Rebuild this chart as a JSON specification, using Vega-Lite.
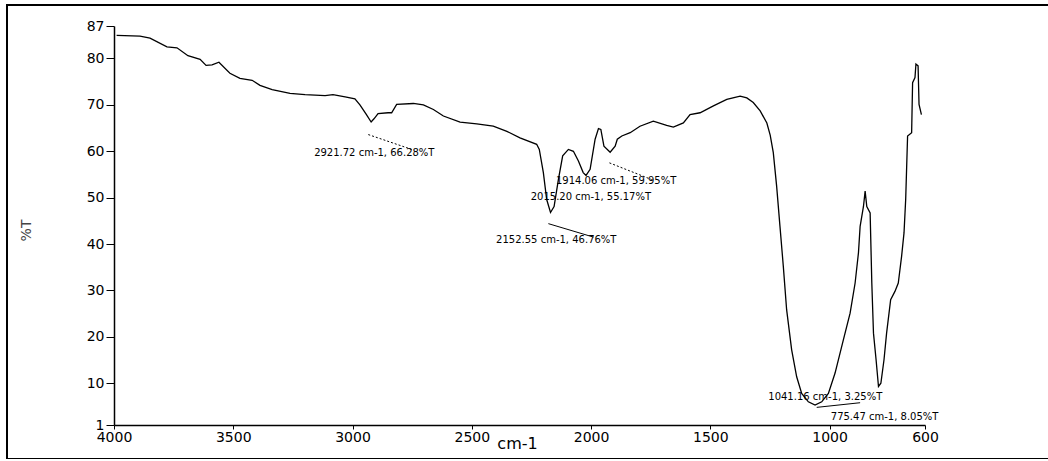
{
  "$schema": "https://vega.github.io/schema/vega-lite/v6.json",
  "width": 1045,
  "height": 454,
  "autosize": "none",
  "padding": {"left": 7, "top": 5, "right": 0, "bottom": 0},
  "background": "white",
  "datasets": {
    "spectrum": [
      {"wn": 3989, "T": 85.0}, {"wn": 3891, "T": 84.8}, {"wn": 3849, "T": 84.4}, {"wn": 3778, "T": 82.5},
      {"wn": 3736, "T": 82.3}, {"wn": 3690, "T": 80.6}, {"wn": 3639, "T": 79.8}, {"wn": 3614, "T": 78.5},
      {"wn": 3589, "T": 78.6}, {"wn": 3560, "T": 79.2}, {"wn": 3514, "T": 76.8}, {"wn": 3472, "T": 75.7},
      {"wn": 3421, "T": 75.3}, {"wn": 3388, "T": 74.2}, {"wn": 3337, "T": 73.3}, {"wn": 3262, "T": 72.5},
      {"wn": 3199, "T": 72.2}, {"wn": 3115, "T": 72.0}, {"wn": 3082, "T": 72.2}, {"wn": 3031, "T": 71.7},
      {"wn": 2990, "T": 71.3}, {"wn": 2969, "T": 70.0}, {"wn": 2943, "T": 68.0}, {"wn": 2922, "T": 66.3},
      {"wn": 2910, "T": 67.0}, {"wn": 2893, "T": 68.1}, {"wn": 2851, "T": 68.3}, {"wn": 2836, "T": 68.3},
      {"wn": 2815, "T": 70.1}, {"wn": 2745, "T": 70.3}, {"wn": 2703, "T": 70.0}, {"wn": 2661, "T": 69.0},
      {"wn": 2619, "T": 67.6}, {"wn": 2549, "T": 66.3}, {"wn": 2479, "T": 65.9}, {"wn": 2410, "T": 65.4},
      {"wn": 2353, "T": 64.3}, {"wn": 2298, "T": 62.9}, {"wn": 2228, "T": 61.5}, {"wn": 2217, "T": 60.4},
      {"wn": 2200, "T": 55.4}, {"wn": 2186, "T": 49.6}, {"wn": 2170, "T": 46.8}, {"wn": 2155, "T": 48.1},
      {"wn": 2137, "T": 53.9}, {"wn": 2119, "T": 59.0}, {"wn": 2095, "T": 60.4}, {"wn": 2074, "T": 60.0},
      {"wn": 2053, "T": 57.9}, {"wn": 2033, "T": 55.4}, {"wn": 2021, "T": 54.8}, {"wn": 2004, "T": 56.1},
      {"wn": 1983, "T": 62.6}, {"wn": 1969, "T": 64.9}, {"wn": 1959, "T": 64.7}, {"wn": 1946, "T": 61.1},
      {"wn": 1920, "T": 59.8}, {"wn": 1899, "T": 61.1}, {"wn": 1890, "T": 62.6}, {"wn": 1871, "T": 63.3},
      {"wn": 1836, "T": 64.0}, {"wn": 1795, "T": 65.4}, {"wn": 1739, "T": 66.5}, {"wn": 1683, "T": 65.6},
      {"wn": 1655, "T": 65.2}, {"wn": 1613, "T": 66.1}, {"wn": 1585, "T": 67.9}, {"wn": 1543, "T": 68.3},
      {"wn": 1487, "T": 69.8}, {"wn": 1431, "T": 71.2}, {"wn": 1375, "T": 71.9}, {"wn": 1347, "T": 71.5},
      {"wn": 1320, "T": 70.5}, {"wn": 1291, "T": 68.7}, {"wn": 1263, "T": 66.1}, {"wn": 1249, "T": 63.5},
      {"wn": 1236, "T": 59.7}, {"wn": 1222, "T": 52.5}, {"wn": 1208, "T": 43.8}, {"wn": 1194, "T": 35.2},
      {"wn": 1180, "T": 25.8}, {"wn": 1159, "T": 17.2}, {"wn": 1138, "T": 11.4}, {"wn": 1117, "T": 7.8},
      {"wn": 1089, "T": 6.0}, {"wn": 1061, "T": 5.3}, {"wn": 1033, "T": 6.0}, {"wn": 1005, "T": 7.8},
      {"wn": 977, "T": 12.2}, {"wn": 942, "T": 19.4}, {"wn": 914, "T": 25.1}, {"wn": 893, "T": 31.6},
      {"wn": 879, "T": 38.1}, {"wn": 872, "T": 43.8}, {"wn": 858, "T": 48.1}, {"wn": 851, "T": 51.4},
      {"wn": 844, "T": 48.1}, {"wn": 830, "T": 46.7}, {"wn": 823, "T": 31.6}, {"wn": 816, "T": 20.8},
      {"wn": 805, "T": 15.0}, {"wn": 795, "T": 9.3}, {"wn": 785, "T": 10.0}, {"wn": 772, "T": 15.0},
      {"wn": 761, "T": 20.8}, {"wn": 744, "T": 28.0}, {"wn": 726, "T": 29.8}, {"wn": 712, "T": 31.6},
      {"wn": 698, "T": 37.4}, {"wn": 688, "T": 42.4}, {"wn": 681, "T": 49.6}, {"wn": 673, "T": 63.3},
      {"wn": 656, "T": 64.0}, {"wn": 652, "T": 74.8}, {"wn": 642, "T": 75.9}, {"wn": 638, "T": 78.8},
      {"wn": 629, "T": 78.4}, {"wn": 625, "T": 70.1}, {"wn": 615, "T": 67.9}
    ],
    "leaders": [
      {"peak": "2921.72", "wn": 2934, "T": 63.6, "wn2": 2752, "T2": 60.4},
      {"peak": "2152.55", "wn": 2179, "T": 44.4, "wn2": 1990, "T2": 41.5},
      {"peak": "1914.06", "wn": 1923, "T": 57.5, "wn2": 1746, "T2": 53.9},
      {"peak": "1041.16", "wn": 1054, "T": 4.8, "wn2": 872, "T2": 5.8}
    ],
    "labels": [
      {"wn": 3161, "T": 59.7, "label": "2921.72 cm-1, 66.28%T"},
      {"wn": 2398, "T": 40.8, "label": "2152.55 cm-1, 46.76%T"},
      {"wn": 2147, "T": 53.5, "label": "1914.06 cm-1, 59.95%T"},
      {"wn": 2253, "T": 50.1, "label": "2015.20 cm-1, 55.17%T"},
      {"wn": 1257, "T": 7.0, "label": "1041.16 cm-1, 3.25%T"},
      {"wn": 995, "T": 2.8, "label": "775.47 cm-1, 8.05%T"}
    ]
  },
  "encoding": {
    "x": {
      "field": "wn",
      "type": "quantitative",
      "scale": {"domain": [4000, 600], "range": [107, 918], "nice": false, "zero": false},
      "axis": {
        "values": [4000, 3500, 3000, 2500, 2000, 1500, 1000, 600],
        "format": "d",
        "offset": -34,
        "tickSize": 4,
        "labelPadding": 1,
        "labelFlush": false,
        "labelOverlap": false,
        "title": "cm-1",
        "titleX": 510,
        "titleY": 23,
        "titleAlign": "center",
        "titleBaseline": "alphabetic",
        "titleFontSize": 16
      }
    },
    "y": {
      "field": "T",
      "type": "quantitative",
      "scale": {"domain": [1, 87], "range": [420, 21], "nice": false, "zero": false},
      "axis": {
        "values": [1, 10, 20, 30, 40, 50, 60, 70, 80, 87],
        "offset": -107,
        "tickSize": 8,
        "labelPadding": 2,
        "labelFlush": false,
        "labelOverlap": false,
        "title": "%T",
        "titleAngle": 270,
        "titleX": -88,
        "titleY": 225,
        "titleAlign": "center",
        "titleBaseline": "middle",
        "titleFontSize": 14,
        "titleColor": "#444444"
      }
    }
  },
  "layer": [
    {
      "data": {"name": "spectrum"},
      "mark": {"type": "line", "color": "black", "strokeWidth": 1.3, "interpolate": "linear"}
    },
    {
      "data": {"name": "leaders"},
      "transform": [{"filter": "datum.peak == '2921.72' || datum.peak == '1914.06'"}],
      "mark": {"type": "rule", "color": "black", "strokeWidth": 1, "strokeDash": [2, 2]},
      "encoding": {"x2": {"field": "wn2"}, "y2": {"field": "T2"}}
    },
    {
      "data": {"name": "leaders"},
      "transform": [{"filter": "datum.peak == '2152.55' || datum.peak == '1041.16'"}],
      "mark": {"type": "rule", "color": "black", "strokeWidth": 1},
      "encoding": {"x2": {"field": "wn2"}, "y2": {"field": "T2"}}
    },
    {
      "data": {"name": "labels"},
      "mark": {"type": "text", "align": "left", "baseline": "middle", "font": "DejaVu Sans", "fontSize": 10, "color": "black"},
      "encoding": {"text": {"field": "label"}}
    }
  ],
  "config": {
    "view": {"stroke": "black", "strokeWidth": 2},
    "axis": {
      "grid": false,
      "domainColor": "black",
      "domainWidth": 1.5,
      "tickColor": "black",
      "labelColor": "black",
      "labelFont": "DejaVu Sans",
      "labelFontSize": 14,
      "titleFont": "DejaVu Sans",
      "titleFontWeight": "normal",
      "titleColor": "black"
    }
  }
}
